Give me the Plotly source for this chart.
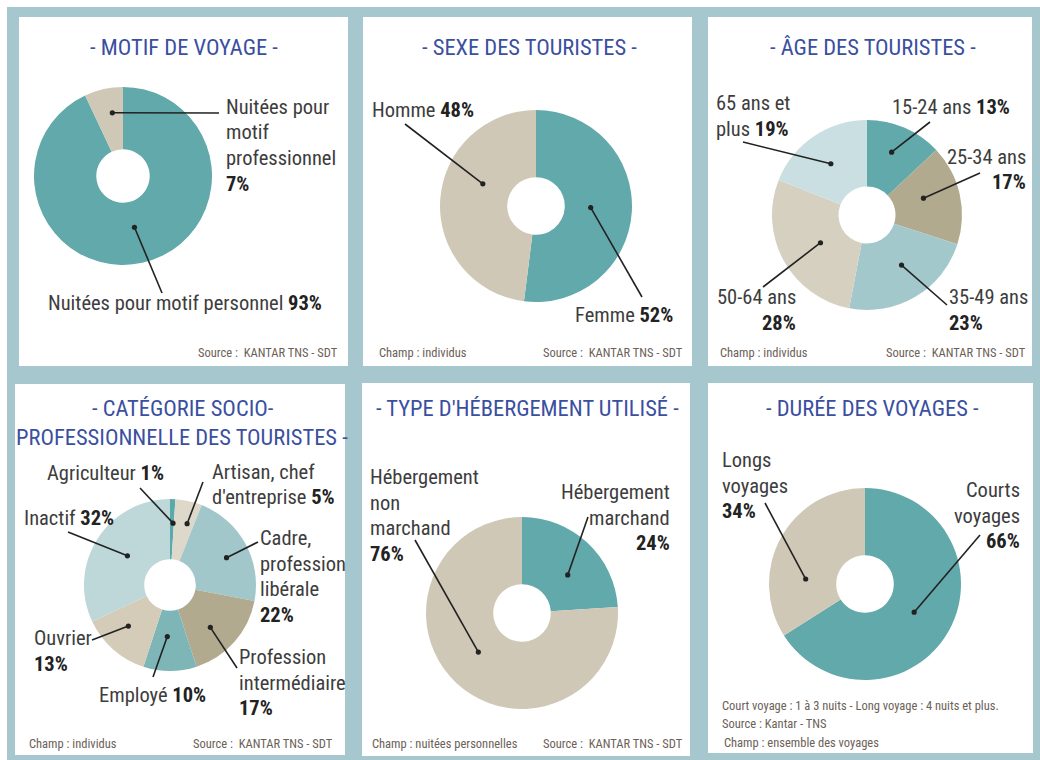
import math
import plotly.graph_objects as go

W, H = 1040, 760

# ---------------- data ----------------
motif_labels = ["Nuitées pour motif personnel", "Nuitées pour motif professionnel"]
motif_values = [93, 7]

sexe_labels = ["Femme", "Homme"]
sexe_values = [52, 48]

age_labels = ["15-24 ans", "25-34 ans", "35-49 ans", "50-64 ans", "65 ans et plus"]
age_values = [13, 17, 23, 28, 19]

csp_labels = ["Agriculteur", "Artisan, chef d'entreprise", "Cadre, profession libérale",
              "Profession intermédiaire", "Employé", "Ouvrier", "Inactif"]
csp_values = [1, 5, 22, 17, 10, 13, 32]

heberg_labels = ["Hébergement marchand", "Hébergement non marchand"]
heberg_values = [24, 76]

duree_labels = ["Courts voyages", "Longs voyages"]
duree_values = [66, 34]

# ---------------- style ----------------
FONT = "Liberation Sans Narrow, Roboto Condensed, DejaVu Sans Condensed, Arial Narrow, sans-serif"
FRAME = "#a7c7cf"
TITLE_C = "#3b4fa0"
TEXT_C = "#3d3d3d"
PCT_C = "#222222"
FOOT_C = "#6b6158"
LINE_C = "#222222"
TEAL = "#62a9ab"
BEIGE = "#cfc8b6"
LS = 25.5  # line spacing of labels (px)
LABEL_SIZE = 20.5
TITLE_SIZE = 22.5
FOOT_SIZE = 12.5

panels = [
    dict(box=(19, 17, 348, 366), labels=motif_labels, values=motif_values,
         colors=[TEAL, BEIGE], center=(123, 176), r=89,
         title=[("- MOTIF DE VOYAGE -", 184, 47)],
         texts=[
             dict(lines=["Nuitées pour motif personnel {pct}"], x=185, xa="center", y=303,
                  end=(162, 293), rf=0.59, da=0),
             dict(lines=["Nuitées pour", "motif", "professionnel", "{pct}"], x=224, xa="left", y=107,
                  end=(219, 113), rf=0.72, da=3),
         ],
         foot=[("Source :  KANTAR TNS - SDT", 340, "right", 352)]),
    dict(box=(363, 17, 692, 366), labels=sexe_labels, values=sexe_values,
         colors=[TEAL, BEIGE], center=(536, 206), r=96,
         title=[("- SEXE DES TOURISTES -", 529, 47)],
         texts=[
             dict(lines=["Femme {pct}"], x=675, xa="right", y=315,
                  end=(642, 297), rf=0.57, da=-2),
             dict(lines=["Homme {pct}"], x=370, xa="left", y=110,
                  end=(405, 124), rf=0.6, da=19),
         ],
         foot=[("Champ : individus", 377, "left", 352),
               ("Source :  KANTAR TNS - SDT", 685, "right", 352)]),
    dict(box=(708, 17, 1032, 366), labels=age_labels, values=age_values,
         colors=[TEAL, "#b2aa8e", "#a2c8cb", "#d6d0c0", "#c9dfe1"], center=(867, 215), r=95,
         title=[("- ÂGE DES TOURISTES -", 873, 47)],
         texts=[
             dict(lines=["15-24 ans {pct}"], x=890, xa="left", y=107,
                  end=(930, 122), rf=0.71, da=-2),
             dict(lines=["25-34 ans", "{pct}"], x=1028, xa="right", y=157,
                  end=(980, 173), rf=0.62, da=-4),
             dict(lines=["35-49 ans", "{pct}"], x=947, xa="left", y=297,
                  end=(947, 305), rf=0.64, da=-4),
             dict(lines=["50-64 ans", "{pct}"], x=798, xa="right", y=297,
                  end=(763, 287), rf=0.57, da=-2),
             dict(lines=["65 ans et", "plus {pct}"], x=714, xa="left", y=103,
                  end=(743, 142), rf=0.66, da=-1),
         ],
         foot=[("Champ : individus", 718, "left", 352),
               ("Source :  KANTAR TNS - SDT", 1028, "right", 352)]),
    dict(box=(15, 384, 345, 755), labels=csp_labels, values=csp_values,
         colors=["#5aa9ab", "#ddd8ca", "#a2c7ca", "#b2aa8e", "#7eb6b8", "#d4ccb8", "#bed8da"],
         center=(170, 585), r=86,
         title=[("- CATÉGORIE SOCIO-", 183, 408), ("PROFESSIONNELLE DES TOURISTES -", 182, 437)],
         texts=[
             dict(lines=["Agriculteur {pct}"], x=45, xa="left", y=473,
                  end=(140, 488), rf=0.72, da=1),
             dict(lines=["Artisan, chef", "d'entreprise {pct}"], x=210, xa="left", y=472,
                  end=(203, 482), rf=0.74, da=3),
             dict(lines=["Cadre,", "profession", "libérale", "{pct}"], x=258, xa="left", y=538,
                  end=(258, 542), rf=0.73, da=3),
             dict(lines=["Profession", "intermédiaire", "{pct}"], x=237, xa="left", y=657,
                  end=(237, 668), rf=0.68, da=5),
             dict(lines=["Employé {pct}"], x=97, xa="left", y=695,
                  end=(153, 677), rf=0.6, da=3),
             dict(lines=["Ouvrier", "{pct}"], x=32, xa="left", y=638,
                  end=(92, 640), rf=0.68, da=4),
             dict(lines=["Inactif {pct}"], x=22, xa="left", y=518,
                  end=(68, 532), rf=0.6, da=2),
         ],
         foot=[("Champ : individus", 27, "left", 743),
               ("Source :  KANTAR TNS - SDT", 335, "right", 743)]),
    dict(box=(362, 383, 690, 756), labels=heberg_labels, values=heberg_values,
         colors=[TEAL, BEIGE], center=(522, 613), r=96,
         title=[("- TYPE D'HÉBERGEMENT UTILISÉ -", 527, 408)],
         texts=[
             dict(lines=["Hébergement", "marchand", "{pct}"], x=672, xa="right", y=492,
                  end=(588, 517), rf=0.62, da=7),
             dict(lines=["Hébergement", "non", "marchand", "{pct}"], x=368, xa="left", y=477,
                  end=(415, 540), rf=0.61, da=5),
         ],
         foot=[("Champ : nuitées personnelles", 370, "left", 743),
               ("Source :  KANTAR TNS - SDT", 685, "right", 743)]),
    dict(box=(708, 383, 1033, 753), labels=duree_labels, values=duree_values,
         colors=[TEAL, BEIGE], center=(865, 584), r=96,
         title=[("- DURÉE DES VOYAGES -", 872, 408)],
         texts=[
             dict(lines=["Courts", "voyages", "{pct}"], x=1022, xa="right", y=490,
                  end=(980, 535), rf=0.59, da=1),
             dict(lines=["Longs", "voyages", "{pct}"], x=720, xa="left", y=460,
                  end=(765, 503), rf=0.62, da=-24),
         ],
         foot=[("Court voyage : 1 à 3 nuits - Long voyage : 4 nuits et plus.", 720, "left", 705),
               ("Source : Kantar - TNS", 720, "left", 723),
               ("Champ : ensemble des voyages", 722, "left", 742)]),
]


def px(x):
    return x / W


def py(y):
    return 1 - y / H


fig = go.Figure()
shapes = [dict(type="rect", xref="paper", yref="paper", x0=px(7), x1=px(W), y0=py(H), y1=py(7),
               fillcolor=FRAME, line=dict(width=0), layer="below")]
annotations = []

for p in panels:
    x0, y0, x1, y1 = p["box"]
    shapes.append(dict(type="rect", xref="paper", yref="paper", x0=px(x0), x1=px(x1),
                       y0=py(y1), y1=py(y0), fillcolor="white", line=dict(width=0), layer="below"))
    cx, cy = p["center"]
    r = p["r"]
    fig.add_trace(go.Pie(
        labels=p["labels"], values=p["values"], sort=False, direction="clockwise", rotation=0,
        hole=0.3, marker=dict(colors=p["colors"], line=dict(width=0)),
        textinfo="none", hoverinfo="label+percent", showlegend=False,
        domain=dict(x=[px(cx - r), px(cx + r)], y=[py(cy + r), py(cy - r)]),
    ))
    for (t, tx, ty) in p["title"]:
        annotations.append(dict(text=t, x=px(tx), y=py(ty), xref="paper", yref="paper",
                                xanchor="center", yanchor="middle", showarrow=False,
                                font=dict(family=FONT, size=TITLE_SIZE, color=TITLE_C)))
    total = sum(p["values"])
    cum = 0
    for v, spec in zip(p["values"], p["texts"]):
        mid = (cum + v / 2) / total
        cum += v
        ang = math.radians(mid * 360 + spec["da"])
        dx = cx + spec["rf"] * r * math.sin(ang)
        dy = cy - spec["rf"] * r * math.cos(ang)
        ex, ey = spec["end"]
        shapes.append(dict(type="line", xref="paper", yref="paper", x0=px(dx), y0=py(dy),
                           x1=px(ex), y1=py(ey), line=dict(color=LINE_C, width=1.6)))
        shapes.append(dict(type="circle", xref="paper", yref="paper",
                           x0=px(dx - 2.6), x1=px(dx + 2.6), y0=py(dy + 2.6), y1=py(dy - 2.6),
                           fillcolor=LINE_C, line=dict(width=0)))
        pct = f"<b><span style='color:{PCT_C}'>{v}%</span></b>"
        for i, line in enumerate(spec["lines"]):
            annotations.append(dict(text=line.replace("{pct}", pct), x=px(spec["x"]),
                                    y=py(spec["y"] + i * LS), xref="paper", yref="paper",
                                    xanchor=spec["xa"], yanchor="middle", showarrow=False,
                                    font=dict(family=FONT, size=LABEL_SIZE, color=TEXT_C)))
    for (t, tx, xa, ty) in p["foot"]:
        annotations.append(dict(text=t, x=px(tx), y=py(ty), xref="paper", yref="paper",
                                xanchor=xa, yanchor="middle", showarrow=False,
                                font=dict(family=FONT, size=FOOT_SIZE, color=FOOT_C)))

fig.update_layout(width=W, height=H, margin=dict(l=0, r=0, t=0, b=0),
                  paper_bgcolor="white", plot_bgcolor="white",
                  shapes=shapes, annotations=annotations)

fig.write_html("out.html", config={"displayModeBar": False},
               post_script="document.body.style.margin='0';")
